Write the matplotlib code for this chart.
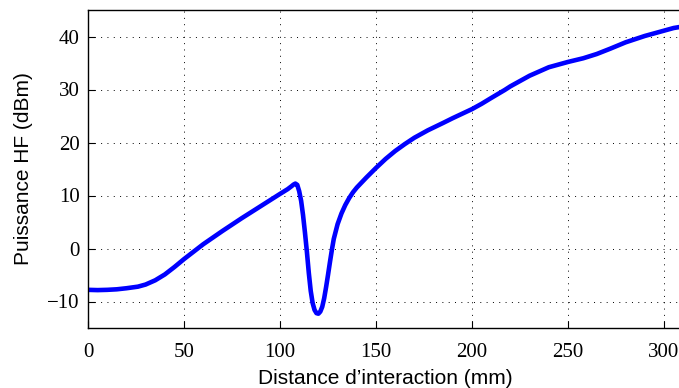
import numpy as np
import matplotlib
matplotlib.use("Agg")
import matplotlib.pyplot as plt

# Data (distance in mm, power in dBm)
distance_mm = [0, 5, 10, 15, 20, 26, 30, 35, 40, 45, 50, 55, 60, 64, 70, 80, 90, 100,
               104, 106, 107, 108, 109, 110, 111, 112, 113, 114, 115, 116, 117, 118,
               119, 120, 121, 122, 123, 124, 125, 126, 127, 128, 130, 132, 134, 136,
               138, 140, 145, 150, 155, 160, 165, 170, 177, 185, 190, 200, 205, 210,
               217, 220, 230, 240, 250, 258, 265, 272, 280, 290, 300, 305, 310]
power_dbm = [-7.8, -7.85, -7.8, -7.7, -7.5, -7.2, -6.8, -6.0, -4.9, -3.5, -2.0, -0.6,
             0.8, 1.8, 3.3, 5.7, 8.0, 10.3, 11.2, 11.75, 12.05, 12.25, 12.0, 10.8, 9.0,
             6.3, 3.0, -0.6, -4.6, -8.0, -10.3, -11.6, -12.2, -12.3, -11.9, -11.0, -9.4,
             -7.3, -5.0, -2.6, -0.3, 1.8, 4.6, 6.6, 8.2, 9.5, 10.6, 11.5, 13.4, 15.2,
             16.9, 18.4, 19.7, 20.9, 22.3, 23.7, 24.6, 26.3, 27.3, 28.4, 29.9, 30.6,
             32.6, 34.2, 35.2, 35.9, 36.7, 37.7, 38.9, 40.1, 41.1, 41.6, 41.9]

xticks = [0, 50, 100, 150, 200, 250, 300]
yticks = [-10, 0, 10, 20, 30, 40]
xlabel = "Distance d\u2019interaction (mm)"
ylabel = "Puissance HF (dBm)"

fig = plt.figure(figsize=(6.79, 3.88), dpi=100)
W, H = 679, 388
ax = fig.add_axes([88 / W, (H - 328) / H, (683.2 - 88) / W, (328 - 10) / H])

ax.plot(distance_mm, power_dbm, color="#0000ff", lw=3.3,
        solid_capstyle="round", solid_joinstyle="round")

ax.set_xlim(0, 310)
ax.set_ylim(-15, 45)
ax.set_xticks(xticks)
ax.set_yticks(yticks)
ax.set_xticklabels([str(t) for t in xticks], fontfamily="Liberation Serif", fontsize=15)
ax.set_yticklabels(["\u2212" + str(-t) if t < 0 else str(t) for t in yticks],
                   fontfamily="Liberation Serif", fontsize=15)
ax.tick_params(axis="both", direction="in", length=5, width=0.8)
ax.tick_params(axis="x", pad=10.5)
ax.tick_params(axis="y", pad=6)
ax.grid(True, color="black", linestyle=(0, (1, 5.5)), linewidth=0.7)
for s in ax.spines.values():
    s.set_linewidth(1.0)

ax.set_xlabel(xlabel, fontfamily="Liberation Sans", fontsize=15, labelpad=5)
ax.set_ylabel(ylabel, fontfamily="Liberation Sans", fontsize=15, labelpad=10)

fig.savefig("out.png", dpi=100)
